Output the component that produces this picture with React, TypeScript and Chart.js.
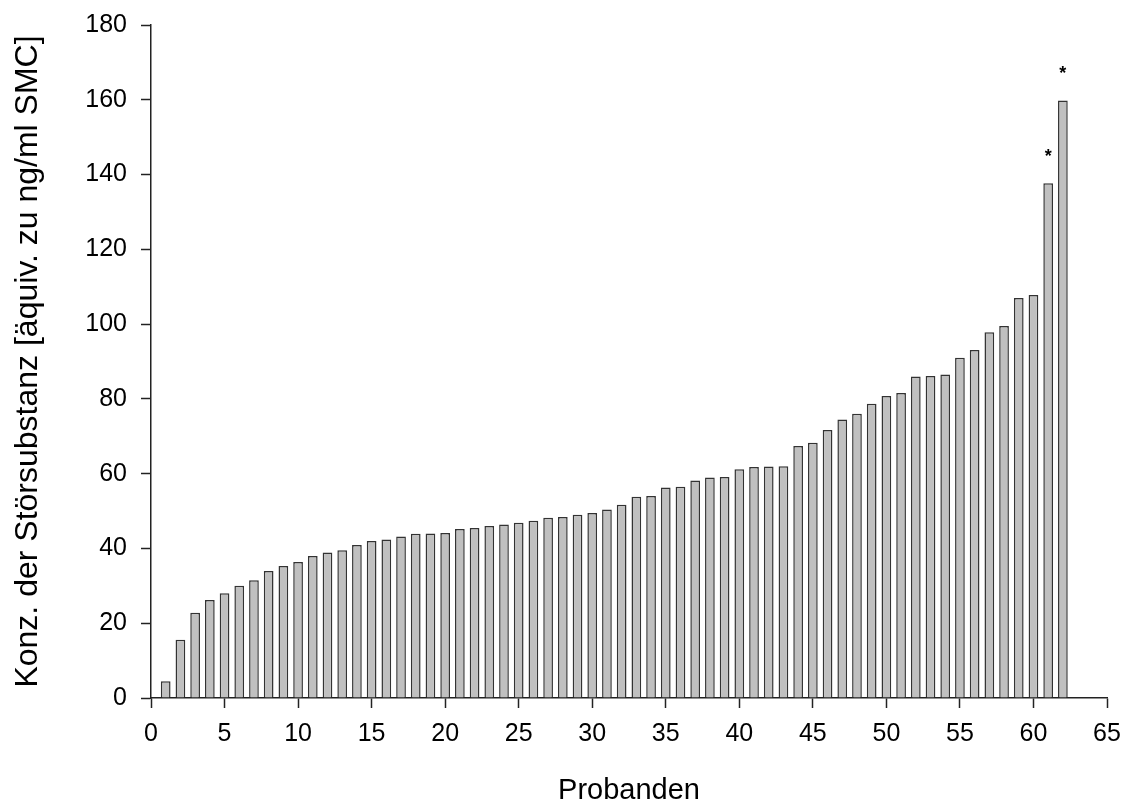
import React, { useEffect, useRef } from "react";
import { Chart, registerables } from "chart.js";

Chart.register(...registerables);

const probanden = [
  1, 2, 3, 4, 5, 6, 7, 8, 9, 10, 11, 12, 13, 14, 15, 16, 17, 18, 19, 20,
  21, 22, 23, 24, 25, 26, 27, 28, 29, 30, 31, 32, 33, 34, 35, 36, 37, 38, 39, 40,
  41, 42, 43, 44, 45, 46, 47, 48, 49, 50, 51, 52, 53, 54, 55, 56, 57, 58, 59, 60,
  61, 62,
];

const konzentration = [
  4.5, 15.6, 22.8, 26.2, 28.0, 30.0, 31.5, 34.0, 35.3, 36.4,
  38.0, 38.9, 39.5, 40.9, 42.0, 42.4, 43.2, 43.9, 44.0, 44.1,
  45.2, 45.5, 46.0, 46.4, 46.9, 47.4, 48.2, 48.4, 49.0, 49.5,
  50.4, 51.7, 53.8, 54.0, 56.3, 56.5, 58.2, 59.0, 59.1, 61.2,
  61.8, 61.9, 62.0, 67.4, 68.3, 71.7, 74.5, 76.0, 78.7, 80.8,
  81.6, 86.0, 86.1, 86.5, 91.0, 93.1, 97.8, 99.5, 107.0, 107.8,
  137.7, 159.8,
];

const markiert = [61, 62];

const xTicks = [0, 5, 10, 15, 20, 25, 30, 35, 40, 45, 50, 55, 60, 65];
const yTicks = [0, 20, 40, 60, 80, 100, 120, 140, 160, 180];

const FONT = "'Liberation Sans', Arial, sans-serif";

const asteriskPlugin = {
  id: "asterisks",
  afterDatasetsDraw(chart: any) {
    const meta = chart.getDatasetMeta(0);
    const ctx = chart.ctx;
    ctx.save();
    ctx.fillStyle = "#000";
    ctx.font = `bold 18px ${FONT}`;
    ctx.textAlign = "center";
    ctx.textBaseline = "middle";
    meta.data.forEach((el: any, i: number) => {
      if (markiert.includes(probanden[i])) {
        ctx.fillText("*", el.x, el.y - 26);
      }
    });
    ctx.restore();
  },
};

export default function App() {
  const ref = useRef<HTMLCanvasElement | null>(null);

  useEffect(() => {
    if (!ref.current) return;
    const chart = new Chart(ref.current, {
      type: "bar",
      data: {
        datasets: [
          {
            data: probanden.map((p, i) => ({ x: p, y: konzentration[i] })),
            backgroundColor: "#c0c0c0",
            borderColor: "#333333",
            borderWidth: 1.5,
            barPercentage: 0.66,
            categoryPercentage: 1,
          },
        ],
      },
      options: {
        animation: false,
        responsive: false,
        maintainAspectRatio: false,
        layout: { padding: { top: 25, right: 24, left: 0, bottom: 0 } },
        plugins: {
          legend: { display: false },
          tooltip: { enabled: false },
        },
        scales: {
          x: {
            type: "linear",
            min: 0,
            max: 65,
            offset: false,
            afterBuildTicks: (s: any) => {
              s.ticks = xTicks.map((v) => ({ value: v }));
            },
            afterFit: (s: any) => {
              s.height = 107;
              s.paddingLeft = 0;
              s.paddingRight = 0;
            },
            grid: {
              display: true,
              offset: false,
              drawOnChartArea: false,
              drawTicks: true,
              tickLength: 10,
              tickColor: "#222",
              tickWidth: 1.5,
            },
            border: { display: true, color: "#222", width: 1.5 },
            ticks: {
              color: "#000",
              font: { family: FONT, size: 25 },
              padding: 11,
              maxRotation: 0,
              autoSkip: false,
            },
            title: {
              display: true,
              text: "Probanden",
              color: "#000",
              font: { family: FONT, size: 29 },
              padding: { top: 0, bottom: -3 },
            },
          },
          y: {
            type: "linear",
            min: 0,
            max: 180,
            afterBuildTicks: (s: any) => {
              s.ticks = yTicks.map((v) => ({ value: v }));
            },
            afterFit: (s: any) => {
              s.width = 151;
              s.paddingTop = 0;
              s.paddingBottom = 0;
            },
            grid: {
              display: true,
              offset: false,
              drawOnChartArea: false,
              drawTicks: true,
              tickLength: 10,
              tickColor: "#222",
              tickWidth: 1.5,
            },
            border: { display: true, color: "#222", width: 1.5 },
            ticks: {
              color: "#000",
              font: { family: FONT, size: 25 },
              padding: 14,
              autoSkip: false,
            },
            title: {
              display: true,
              text: "Konz. der Störsubstanz [äquiv. zu ng/ml SMC]",
              color: "#000",
              font: { family: FONT, size: 32 },
              padding: { top: 9, bottom: 0 },
            },
          },
        },
      },
      plugins: [asteriskPlugin],
    } as any);
    return () => chart.destroy();
  }, []);

  return (
    <div style={{ position: "fixed", left: 0, top: 0, width: 1131, height: 805, background: "#fff" }}>
      <canvas ref={ref} width={1131} height={805} style={{ width: 1131, height: 805, display: "block" }} />
    </div>
  );
}
